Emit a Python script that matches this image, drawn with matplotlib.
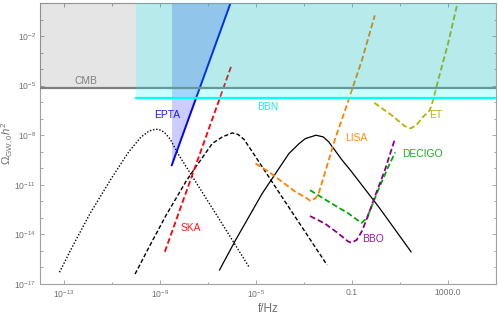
import numpy as np
import matplotlib
matplotlib.use('Agg')
import matplotlib.pyplot as plt
from matplotlib.ticker import FixedLocator, FixedFormatter, NullFormatter

plt.rcParams['font.family'] = ['Liberation Sans', 'DejaVu Sans']
plt.rcParams['mathtext.fontset'] = 'custom'
plt.rcParams['mathtext.rm'] = 'Liberation Sans'
plt.rcParams['mathtext.it'] = 'Liberation Sans:italic'
plt.rcParams['mathtext.bf'] = 'Liberation Sans:bold'

# ---- data (log10 f [Hz], log10 Omega_GW h^2) ----
dotted_logf = [-13.19, -12.6, -11.9, -11.0, -10.3, -9.8, -9.45, -9.18, -8.95, -8.75, -8.55, -8.28, -7.5, -6.4, -5.30]
dotted_logo = [-16.29, -14.6, -12.7, -10.55, -9.0, -8.12, -7.74, -7.63, -7.70, -7.92, -8.30, -9.05, -10.85, -13.38, -15.95]

dashed_logf = [-10.04, -9.45, -8.75, -7.9, -7.5, -6.82, -6.4, -5.99, -5.75, -5.5, -5.2, -4.0, -2.04]
dashed_logo = [-16.40, -14.75, -12.85, -10.75, -9.9, -8.50, -8.1, -7.86, -7.95, -8.25, -8.9, -11.55, -15.85]

solid_logf = [-6.52, -5.85, -4.74, -3.63, -3.2, -2.94, -2.5, -2.2, -1.97, -1.42, -1.07, 0.11, 1.46]
solid_logo = [-16.15, -14.34, -11.52, -9.11, -8.5, -8.20, -8.0, -8.1, -8.40, -9.49, -10.11, -12.33, -15.05]

lisa_logf = [-5.02, -4.47, -3.91, -3.36, -2.94, -2.73, -2.53, -2.39, -2.18, -1.97, -1.70, -1.28, -0.59, -0.05]
lisa_logo = [-9.71, -10.21, -10.82, -11.42, -11.76, -11.97, -11.82, -11.52, -10.52, -9.51, -8.20, -6.45, -3.47, -0.75]

et_logf = [-0.07, 0.65, 1.20, 1.44, 1.68, 1.96, 2.24, 2.38, 2.59, 3.00, 3.39]
et_logo = [-6.04, -6.79, -7.45, -7.59, -7.39, -6.89, -6.49, -5.88, -4.67, -2.46, -0.04]

decigo_logf = [-2.75, -1.85, -1.15, -0.67, -0.60, -0.39, -0.19, 0.09, 0.51, 0.80]
decigo_logo = [-11.32, -12.13, -12.73, -13.24, -13.30, -13.03, -12.33, -11.32, -9.91, -9.04]

bbo_logf = [-2.75, -2.13, -1.57, -1.15, -1.02, -0.81, -0.60, -0.32, -0.05, 0.37, 0.78]
bbo_logo = [-12.89, -13.34, -13.94, -14.44, -14.50, -14.34, -13.84, -12.83, -11.72, -10.11, -8.26]

ska_logf = [-8.80, -6.02]
ska_logo = [-15.05, -3.77]

epta_logf = [-8.51, -6.06]
epta_logo = [-9.81, 0.0]

cmb_bound = -5.14
bbn_bound = -5.74
bbn_fmin = -10.0

xlim_log = (-14, 5)
ylim_log = (-17, 0)

xmajor = [1e-13, 1e-9, 1e-5, 0.1, 1000.0]
xmajor_labels = [r'$10^{-13}$', r'$10^{-9}$', r'$10^{-5}$', '0.1', '1000.0']
xminor = [1e-11, 1e-7, 1e-3, 10.0]
ymajor = [1e-17, 1e-14, 1e-11, 1e-8, 1e-5, 1e-2]
ymajor_labels = [r'$10^{-17}$', r'$10^{-14}$', r'$10^{-11}$', r'$10^{-8}$', r'$10^{-5}$', r'$10^{-2}$']
yminor = [10.0 ** k for k in range(-16, 0) if k not in (-14, -11, -8, -5, -2)]

labels = [
    ('CMB', -12.09, -4.73, '#808080'),
    ('BBN', -4.50, -6.29, '#1ee6e6'),
    ('EPTA', -8.69, -6.79, '#1a1aff'),
    ('SKA', -7.72, -13.6, '#ff1a1a'),
    ('LISA', -0.82, -8.18, '#ff8c1a'),
    ('ET', 2.48, -6.79, '#b3b31a'),
    ('DECIGO', 1.92, -9.15, '#1aab1a'),
    ('BBO', -0.14, -14.28, '#9a1a9a'),
]


def p(a):
    return 10.0 ** np.asarray(a, dtype=float)


fig = plt.figure(figsize=(4.98, 3.14), dpi=100)
ax = fig.add_axes([40 / 498, 1 - 284 / 314, 456 / 498, 281 / 314])
ax.set_xscale('log')
ax.set_yscale('log')
ax.set_xlim(p(xlim_log[0]), p(xlim_log[1]))
ax.set_ylim(p(ylim_log[0]), p(ylim_log[1]))

# black spectra
ax.plot(p(dotted_logf), p(dotted_logo), color='black', lw=1.0, ls=(0, (1, 1.3)), zorder=2)
ax.plot(p(dashed_logf), p(dashed_logo), color='black', lw=1.0, ls=(0, (3, 1.6)), zorder=2)
ax.plot(p(solid_logf), p(solid_logo), color='black', lw=0.9, zorder=2)

# detectors
dash = (0, (3.2, 1.6))
ax.plot(p(ska_logf), p(ska_logo), color='#ff0000', lw=1.3, ls=dash, zorder=2)
ax.plot(p(lisa_logf), p(lisa_logo), color='#ff8000', lw=1.3, ls=dash, zorder=2)
ax.plot(p(et_logf), p(et_logo), color='#b3b300', lw=1.3, ls=dash, zorder=2)
ax.plot(p(decigo_logf), p(decigo_logo), color='#00aa00', lw=1.3, ls=dash, zorder=2)
ax.plot(p(bbo_logf), p(bbo_logo), color='#880088', lw=1.3, ls=dash, zorder=2)

# EPTA
ax.fill(p([epta_logf[0], epta_logf[0], epta_logf[1]]),
        p([epta_logo[0], ylim_log[1], epta_logo[1]]),
        color='blue', alpha=0.2, lw=0, zorder=1)
ax.plot(p(epta_logf), p(epta_logo), color='#0000ff', lw=1.4, zorder=2)

# CMB region and line
ax.fill_between(p(xlim_log), p(cmb_bound), p(ylim_log[1]), color='black', alpha=0.1, lw=0, zorder=3)
ax.plot(p(xlim_log), p([cmb_bound, cmb_bound]), color='#7f7f7f', lw=1.6, zorder=3.5)

# BBN region and line
ax.fill_between(p([bbn_fmin, xlim_log[1]]), p(bbn_bound), p(ylim_log[1]), color='cyan', alpha=0.2, lw=0, zorder=4)
ax.plot(p([bbn_fmin, xlim_log[1]]), p([bbn_bound, bbn_bound]), color='#00ffff', lw=1.6, zorder=5)

for txt, lx, ly, c in labels:
    ax.text(p(lx), p(ly), txt, color=c, fontsize=7.4, ha='center', va='center', zorder=6)

# ticks
ax.xaxis.set_major_locator(FixedLocator(xmajor))
ax.xaxis.set_major_formatter(FixedFormatter(xmajor_labels))
ax.xaxis.set_minor_locator(FixedLocator(xminor))
ax.xaxis.set_minor_formatter(NullFormatter())
ax.yaxis.set_major_locator(FixedLocator(ymajor))
ax.yaxis.set_major_formatter(FixedFormatter(ymajor_labels))
ax.yaxis.set_minor_locator(FixedLocator(yminor))
ax.yaxis.set_minor_formatter(NullFormatter())
ax.tick_params(which='both', direction='in', top=True, right=True, colors='#999999',
               labelcolor='#707070', labelsize=6.2, width=0.6)
ax.tick_params(which='major', length=3.2, pad=3)
ax.tick_params(which='minor', length=1.8)
for s in ax.spines.values():
    s.set_color('#a0a0a0')
    s.set_linewidth(0.8)

ax.set_xlabel('f/Hz', color='#707070', fontsize=8.5, labelpad=2)
fig.text(8 / 498, 1 - 143 / 314, r'$\Omega_{\mathrm{GW},0}h^2$', color='#707070', fontsize=8.2,
         rotation=90, ha='center', va='center')

fig.savefig('out.png', dpi=100)
